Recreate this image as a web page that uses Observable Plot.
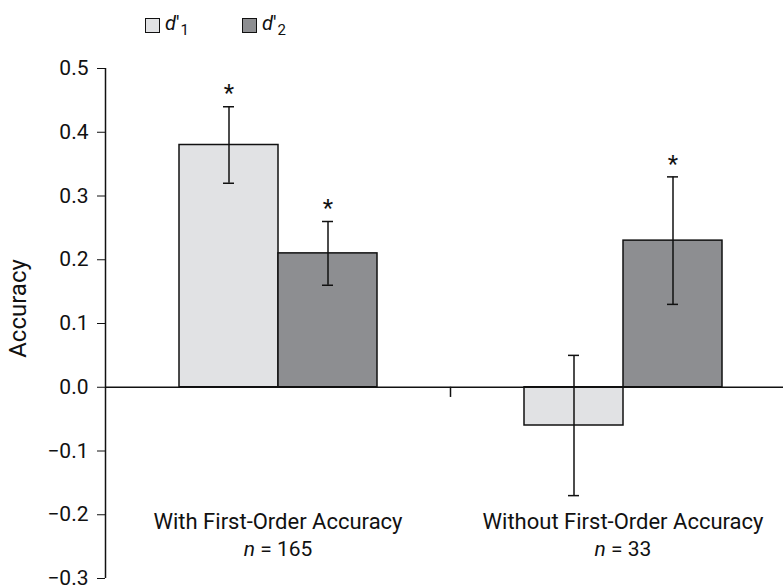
<!DOCTYPE html>
<html>
<head>
<meta charset="utf-8">
<script src="https://cdn.jsdelivr.net/npm/d3@7"></script>
<script src="https://cdn.jsdelivr.net/npm/@observablehq/plot@0.6"></script>
<style>
  html, body { margin: 0; padding: 0; background: #fff; }
  body { width: 783px; height: 588px; overflow: hidden; font-family: Roboto, "Liberation Sans", sans-serif; color: #111; }
  #legend { position: relative; height: 45px; font-size: 20px; }
  .key { position: absolute; top: 18px; width: 13px; height: 13px; border: 1.5px solid #111; }
  .lab { position: absolute; top: 11px; font-size: 20px; }
  .lab i { font-style: italic; }
  .lab sub { font-size: 15px; vertical-align: -5px; line-height: 0; margin-left: 1px; }
  #chart svg { display: block; font-family: Roboto, "Liberation Sans", sans-serif; }
  #chart svg text { font-size: 21px; font-family: Roboto, "Liberation Sans", sans-serif; }
  #chart svg .star text { font-size: 24px; }
  #chart svg .ylab text { font-size: 24px; }
  #chart svg .cat text { font-size: 22px; }
</style>
</head>
<body>
<div id="legend"></div>
<div id="chart"></div>
<script>
// ---- data ----
const categories = ["With First-Order Accuracy", "Without First-Order Accuracy"];
const nLabels = ["165", "33"];
const series = ["d′1", "d′2"];
const colors = ["#e1e2e4", "#8d8e91"];
const means = [[0.38, 0.21], [-0.06, 0.23]];
const lower = [[0.32, 0.16], [-0.17, 0.13]];
const upper = [[0.44, 0.26], [0.05, 0.33]];
const significant = [[true, true], [false, true]];
const yTicks = [-0.3, -0.2, -0.1, 0.0, 0.1, 0.2, 0.3, 0.4, 0.5];
const yLabel = "Accuracy";

const data = [];
categories.forEach((c, i) => series.forEach((s, j) => data.push({
  cat: c, series: s, n: nLabels[i], value: means[i][j], lo: lower[i][j], hi: upper[i][j], sig: significant[i][j]
})));

// ---- legend ----
const legend = document.getElementById("legend");
const legendX = [145, 242];
series.forEach((s, j) => {
  const k = document.createElement("div");
  k.className = "key"; k.style.left = legendX[j] + "px"; k.style.background = colors[j];
  legend.appendChild(k);
  const t = document.createElement("div");
  t.className = "lab"; t.style.left = (legendX[j] + 20) + "px";
  t.innerHTML = "<i>d</i>′<sub>" + s.slice(2) + "</sub>";
  legend.appendChild(t);
});

const first = d => d.cat === categories[0] && d.series === series[0];

const chart = Plot.plot({
  width: 783,
  height: 543,
  marginTop: 23,
  marginBottom: 10,
  marginLeft: 105,
  marginRight: 0,
  style: {background: "white", color: "#111"},
  facet: {data, x: "cat", marginTop: 0, marginBottom: 0, marginLeft: 0, marginRight: 0},
  fx: {domain: categories, range: [105, 795], padding: 0, axis: null, label: null},
  x: {domain: series, paddingInner: 0, paddingOuter: 0.742, axis: null},
  y: {domain: [-0.3, 0.5], ticks: yTicks, tickFormat: d3.format(".1f"), tickSize: 8, tickPadding: 9, label: null},
  color: {domain: series, range: colors},
  marks: [
    Plot.barY(data, {x: "series", y: "value", fill: "series", stroke: "#111", strokeWidth: 1.5}),
    Plot.ruleY(data, {y: () => 0, filter: d => d.series === series[0], stroke: "#111", strokeWidth: 1.6}),
    // y-axis line and group-boundary tick
    Plot.ruleX(data, {filter: first, x: null, y1: () => yTicks[0], y2: () => yTicks[yTicks.length - 1], dx: -172.5, stroke: "#111", strokeWidth: 1.5}),
    Plot.ruleX(data, {filter: first, x: null, y1: () => 0, y2: () => -0.016, dx: 172.5, stroke: "#111", strokeWidth: 1.5}),
    // error bars
    Plot.ruleX(data, {x: "series", y1: "lo", y2: "hi", stroke: "#111", strokeWidth: 1.5}),
    Plot.tickY(data, {x: "series", y: "hi", insetLeft: 44, insetRight: 44, stroke: "#111", strokeWidth: 1.5}),
    Plot.tickY(data, {x: "series", y: "lo", insetLeft: 44, insetRight: 44, stroke: "#111", strokeWidth: 1.5}),
    // significance stars
    Plot.text(data, {filter: d => d.sig, x: "series", y: "hi", text: () => "*", dy: -13, fill: "#111", className: "star"}),
    // y label
    Plot.text(data, {filter: first, x: null, text: () => yLabel, frameAnchor: "left", textAnchor: "middle", rotate: -90, dx: -87, dy: -15, fill: "#111", className: "ylab"}),
    // category labels
    Plot.text(data, {filter: d => d.series === series[0], x: null, text: "cat", frameAnchor: "bottom", dy: -50, fill: "#111", className: "cat"}),
    Plot.text(data, {filter: d => d.series === series[0], x: null, text: d => "n = " + d.n, frameAnchor: "bottom", dy: -23, fill: "#111", className: "nlab"})
  ]
});
document.getElementById("chart").appendChild(chart);

// italic n in the sample-size labels
chart.querySelectorAll(".nlab text").forEach(t => {
  const rest = t.textContent.slice(1);
  t.textContent = "";
  const ts = document.createElementNS("http://www.w3.org/2000/svg", "tspan");
  ts.setAttribute("font-style", "italic");
  ts.textContent = "n";
  t.appendChild(ts);
  t.appendChild(document.createTextNode(rest));
});
</script>
</body>
</html>
